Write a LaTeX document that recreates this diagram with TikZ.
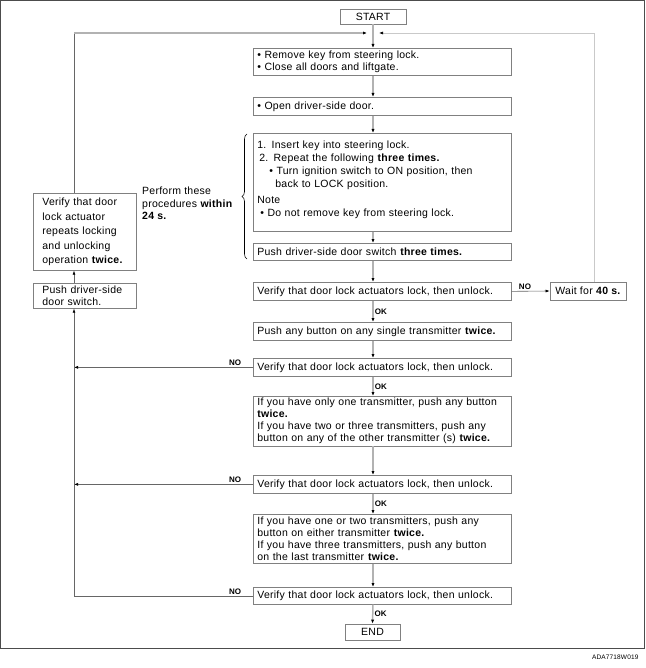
\documentclass[tikz,border=0pt]{standalone}
\usepackage{fontspec}
\setmainfont{Liberation Sans}[LetterSpace=2.5]
\usetikzlibrary{arrows.meta,decorations.pathreplacing}

\definecolor{boxgray}{gray}{0.5}
\definecolor{flowgray}{gray}{0.7}
\definecolor{loopgray}{gray}{0.4}
\definecolor{framegray}{gray}{0.3}

\tikzset{
	box/.style={draw=boxgray,line width=0.7pt,anchor=north west,align=left,inner xsep=4pt,inner ysep=2pt,text width=250pt,font=\fontsize{10.5}{12.5}\selectfont},
	endbox/.style={draw=boxgray,line width=0.7pt,minimum height=15pt,font=\fontsize{10.5}{12}\selectfont},
	flow/.style={draw=flowgray,line width=1.5pt,-{Latex[length=4pt,width=3.2pt,color=black]}},
	back/.style={draw=loopgray,line width=0.6pt,-{Latex[length=4pt,width=3pt,color=black]}},
	lbl/.style={text=black,font=\fontsize{8}{8}\selectfont\bfseries,inner sep=1pt}
}

\begin{document}
\begin{tikzpicture}[x=1pt,y=-1pt]
		\useasboundingbox (0,0) rectangle (645,668);
		\draw[framegray,line width=0.9pt] (0.5,0.5) rectangle (644,648);
		\node[anchor=east,font=\fontsize{6.5}{7}\selectfont] (code) at (642,657) {ADA7718W019};
		
		\coordinate (top) at (373,33);
		\coordinate (vl) at (74,0);
		\coordinate (corner) at (top -| vl);
		
		\node[endbox,minimum width=66pt] (start) at (373,16.5) {START};
		\node[box,minimum height=27pt] (keyout) at (253,48) {• Remove key from steering lock.\\• Close all doors and liftgate.};
		\node[box,minimum height=18pt] (door) at (253,97) {• Open driver-side door.};
		\node[box,minimum height=98pt,font=\fontsize{10.5}{13}\selectfont] (keyin) at (253,133) {1. Insert key into steering lock.\\
			\hspace*{2pt}2. Repeat the following \textbf{three times.}\\
			\hspace*{12pt}• Turn ignition switch to ON position, then\\
			\hspace*{18pt}back to LOCK position.\\[3pt]
			Note\\
			\hspace*{3pt}• Do not remove key from steering lock.\\[-6pt]\mbox{}};
		\node[box,minimum height=17pt] (switch) at (253,243) {Push driver-side door switch \textbf{three times.}};
		\node[box,minimum height=18pt] (check1) at (253,282) {Verify that door lock actuators lock, then unlock.};
		\node[endbox,minimum width=76pt,minimum height=18pt] (wait) at (588,291) {Wait for \textbf{40 s.}};
		\node[box,minimum height=18pt] (single) at (253,322) {Push any button on any single transmitter \textbf{twice.}};
		\node[box,minimum height=18pt] (check2) at (253,358) {Verify that door lock actuators lock, then unlock.};
		\node[box,minimum height=49pt,font=\fontsize{10.5}{12}\selectfont] (second) at (253,396) {If you have only one transmitter, push any button\\\textbf{twice.}\\If you have two or three transmitters, push any\\button on any of the other transmitter (s) \textbf{twice.}};
		\node[box,minimum height=18pt] (check3) at (253,475) {Verify that door lock actuators lock, then unlock.};
		\node[box,minimum height=49pt,font=\fontsize{10.5}{12}\selectfont] (last) at (253,514) {If you have one or two transmitters, push any\\button on either transmitter \textbf{twice.}\\If you have three transmitters, push any button\\on the last transmitter \textbf{twice.}};
		\node[box,minimum height=17pt] (check4) at (253,587) {Verify that door lock actuators lock, then unlock.};
		\node[endbox,minimum width=55pt,minimum height=16pt] (end) at (372.5,632) {END};
		
		% left side
		\node[box,text width=85pt,inner xsep=9pt,inner ysep=3pt,minimum height=77pt,font=\fontsize{10.5}{14.5}\selectfont] (repeat) at (33,193) {Verify that door\\lock actuator\\repeats locking\\and unlocking\\operation \textbf{twice.}};
		\node[box,text width=85pt,inner xsep=9pt,minimum height=25pt,font=\fontsize{10.5}{12}\selectfont] (manual) at (33,283) {Push driver-side\\door switch.};
		\node[anchor=north west,align=left,inner sep=0pt,font=\fontsize{10.5}{12.5}\selectfont] (within) at (142,187) {Perform these\\procedures \textbf{within}\\\textbf{24 s.}};
		\draw[line width=0.6pt,decorate,decoration={brace,amplitude=5pt}] (247,259) -- (247,134);
		
		% main flow
		\draw[flow] (start.south) -- (keyout.north -| start);
		\draw[flow] (keyout.south -| start) -- (door.north -| start);
		\draw[flow] (door.south -| start) -- (keyin.north -| start);
		\draw[flow] (keyin.south -| start) -- (switch.north -| start);
		\draw[flow] (switch.south -| start) -- (check1.north -| start);
		\draw[flow] (check1.south -| start) -- node[lbl,right] {OK} (single.north -| start);
		\draw[flow] (single.south -| start) -- (check2.north -| start);
		\draw[flow] (check2.south -| start) -- node[lbl,right] {OK} (second.north -| start);
		\draw[flow] (second.south -| start) -- (check3.north -| start);
		\draw[flow] (check3.south -| start) -- node[lbl,right] {OK} (last.north -| start);
		\draw[flow] (last.south -| start) -- (check4.north -| start);
		\draw[flow] (check4.south -| start) -- node[lbl,right] {OK} (end.north);
		
		% NO branches
		\draw[back] (check1.east) -- node[lbl,above,pos=0.35] {NO} (wait.west);
		\draw[back,draw=flowgray!70] (wait.north -| 594,0) |- ([xshift=6pt]top);
		\draw[loopgray,line width=0.9pt] (repeat.north -| vl) -- (corner);
		\draw[flow,line width=1.3pt] (corner) -- ([xshift=-6pt]top);
		\draw[back] (manual.north -| vl) -- (repeat.south -| vl);
		\draw[back] (check2.west) -- node[lbl,above,pos=0.1] {NO} (check2.west -| vl);
		\draw[back] (check3.west) -- node[lbl,above,pos=0.1] {NO} (check3.west -| vl);
		\draw[back] (check4.west) -- node[lbl,above,pos=0.1] {NO} (check4.west -| vl) -- (manual.south -| vl);
		\end{tikzpicture}
\end{document}
